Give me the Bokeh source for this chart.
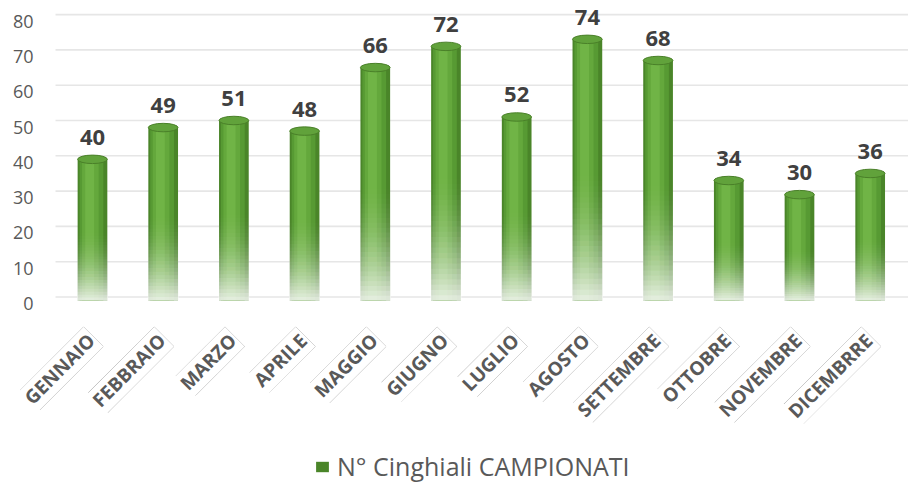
import numpy as np
from bokeh.plotting import figure
from bokeh.models import ColumnDataSource, Range1d, Legend, LegendItem
from bokeh.core.properties import value
from bokeh.transform import dodge
from bokeh.embed import file_html
from bokeh.resources import INLINE

# ---- data ----
months = ["GENNAIO", "FEBBRAIO", "MARZO", "APRILE", "MAGGIO", "GIUGNO",
          "LUGLIO", "AGOSTO", "SETTEMBRE", "OTTOBRE", "NOVEMBRE", "DICEMBRRE"]
counts = [40, 49, 51, 48, 66, 72, 52, 74, 68, 34, 30, 36]
y_ticks = [0, 10, 20, 30, 40, 50, 60, 70, 80]
y_tick_labels = ["0", "10", "20", "30", "40", "50", "60", "70", "80"]
series_name = "N° Cinghiali CAMPIONATI"

FONT = "Open Sans"
GRAY = "#595959"

# layout constants (data units of the plot's own scales)
X0, X1 = -1.301, 11.542
Y0, Y1 = -51.84, 85.0
GRID_X0 = -0.523          # back-wall gridlines start
WALL_DY = 1.0             # back wall sits slightly higher (3-D depth)
TICK_X = -0.834           # right edge of y tick labels
LBL_Y = -10.2             # anchor of month labels

xs = np.arange(len(months))
src = ColumnDataSource(dict(x=xs, top=counts, month=months,
                            lbl=[str(c) for c in counts]))

p = figure(width=908, height=483, output_backend="svg", toolbar_location=None,
           x_axis_location=None, y_axis_location=None,
           x_range=Range1d(X0, X1), y_range=Range1d(Y0, Y1),
           min_border=0)
p.outline_line_color = None
p.xgrid.visible = False
p.ygrid.visible = False
p.background_fill_color = "white"
p.border_fill_color = "white"

# back-wall gridlines
gy = [t + WALL_DY for t in y_ticks]
p.segment(x0=[GRID_X0] * len(y_ticks), x1=[X1] * len(y_ticks), y0=gy, y1=gy,
          line_color="#e6e6e6", line_width=1.6)

# y tick labels
p.text(x=[TICK_X] * len(y_ticks), y=y_ticks, text=y_tick_labels,
       text_align="right", text_baseline="middle", y_offset=3,
       text_font=value(FONT), text_font_size="18px", text_color=GRAY)

# cylinders: layered bars (dark edges, lighter centre, highlight left of centre)
BW = 0.42
main = p.vbar(x="x", top="top", bottom=0, width=BW, source=src,
              fill_color="#4a8529", line_color=None)
p.vbar(x=dodge("x", -0.015), top="top", bottom=0, width=BW * 0.80, source=src,
       fill_color="#579a33", line_color=None)
p.vbar(x=dodge("x", -0.03), top="top", bottom=0, width=BW * 0.56, source=src,
       fill_color="#64a83c", line_color=None)
p.vbar(x=dodge("x", -0.04), top="top", bottom=0, width=BW * 0.30, source=src,
       fill_color="#70b446", line_color=None)
# top caps
p.ellipse(x="x", y="top", width=BW, height=2.4, source=src,
          fill_color="#61a23b", line_color="#4a8029", line_width=1)

# white fade at the bottom of each bar
N = 24
FRAC = 0.5
t = (np.arange(N) + 0.5) / N
T = 0.88 * (1 - t) ** 1.7
T_next = np.append(T[1:], 0.0)
alphas = 1 - (1 - T) / (1 - T_next)
fx, ftop, fa = [], [], []
for i, v in enumerate(counts):
    for k in range(N):
        fx.append(i)
        ftop.append(v * FRAC * (k + 1) / N)
        fa.append(alphas[k])
p.vbar(x=fx, top=ftop, bottom=0, width=BW + 0.02, fill_color="white",
       fill_alpha=fa, line_color=None)

# value labels
p.text(x="x", y="top", text="lbl", source=src, text_align="center",
       text_baseline="alphabetic", y_offset=-22,
       text_font=value(FONT), text_font_style="bold", text_font_size="22px",
       text_color="#404040")

# category labels (rotated, underlined)
src_lbl = ColumnDataSource(dict(x=xs, y=[LBL_Y] * len(months), month=months))
common = dict(x="x", y="y", text="month", source=src_lbl, angle=np.pi / 4,
              text_align="right", text_baseline="alphabetic", x_offset=1,
              text_font=value(FONT), text_font_style="bold",
              text_font_size="19px", text_color=GRAY)
p.text(text_alpha=0, background_fill_color=GRAY, padding=(0, 0, 2, 0), **common)
p.text(background_fill_color="white", padding=(2, 2, 0, 2), **common)

# legend
legend = Legend(items=[LegendItem(label=series_name, renderers=[main])],
                location=(314, 0), orientation="horizontal",
                border_line_color=None, background_fill_alpha=0,
                label_text_font=FONT, label_text_font_size="25px",
                label_text_color=GRAY, glyph_width=16, glyph_height=13,
                margin=0, padding=2, label_standoff=7)
p.add_layout(legend)

open("out.html", "w").write(file_html(p, INLINE))
